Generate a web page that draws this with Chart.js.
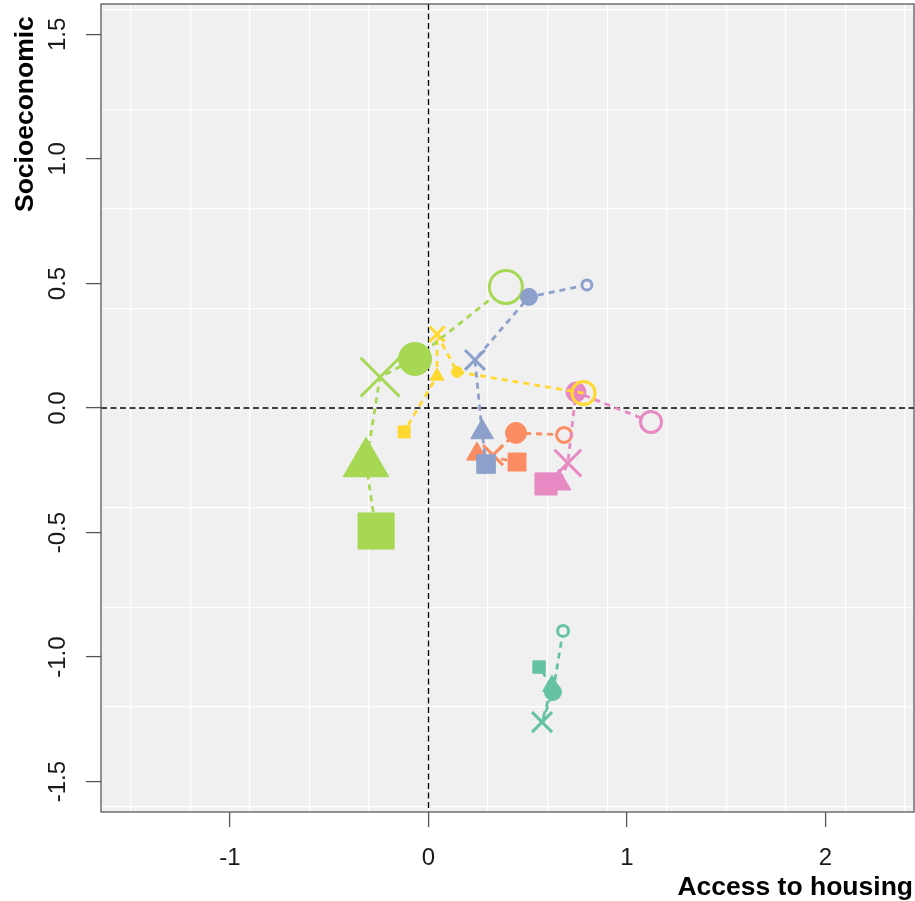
<!DOCTYPE html>
<html>
<head>
<meta charset="utf-8">
<script src="https://cdn.jsdelivr.net/npm/chart.js@4.4.1/dist/chart.umd.min.js"></script>
<style>
  html, body { margin: 0; padding: 0; background: #ffffff; }
  #wrap { width: 915px; height: 901px; position: relative; }
</style>
</head>
<body>
<div id="wrap"><canvas id="chart" width="915" height="901"></canvas></div>
<script>
// Stage order of the markers along each trajectory
const stages = ['open', 'filled', 'cross', 'triangle', 'square'];

// Access to housing (x) and Socioeconomic (y) scores per group, one value per stage
const blueX   = [0.798, 0.506, 0.234, 0.270, 0.290];
const blueY   = [0.494, 0.446, 0.193, -0.097, -0.225];
const limeX   = [0.390, -0.068, -0.244, -0.315, -0.264];
const limeY   = [0.486, 0.197, 0.124, -0.223, -0.494];
const yellowX = [0.781, 0.144, 0.043, 0.043, -0.123];
const yellowY = [0.060, 0.145, 0.297, 0.128, -0.096];
const pinkX   = [1.121, 0.743, 0.702, 0.657, 0.592];
const pinkY   = [-0.056, 0.064, -0.221, -0.301, -0.305];
const orangeX = [0.683, 0.441, 0.325, 0.244, 0.446];
const orangeY = [-0.108, -0.100, -0.189, -0.185, -0.217];
const greenX  = [0.678, 0.627, 0.572, 0.622, 0.557];
const greenY  = [-0.895, -1.140, -1.261, -1.116, -1.040];

// Relative magnitude of each point (drives marker size)
const blueMag   = [0.65, 0.90, 0.90, 0.85, 0.90];
const limeMag   = [1.80, 1.70, 1.75, 1.70, 1.75];
const yellowMag = [1.30, 0.60, 0.68, 0.52, 0.58];
const pinkMag   = [1.20, 1.05, 1.20, 0.90, 1.07];
const orangeMag = [0.90, 1.10, 0.90, 0.78, 0.87];
const greenMag  = [0.70, 0.90, 0.90, 0.70, 0.60];

// Axis ticks: labelled ticks and background grid positions
const xTickLabels = [-1, 0, 1, 2];
const yTickLabels = [-1.5, -1.0, -0.5, 0, 0.5, 1.0, 1.5];
const xGridValues = [-1.5, -1.2, -0.9, -0.6, -0.3, 0, 0.3, 0.6, 0.9, 1.2, 1.5, 1.8, 2.1, 2.4];
const yGridValues = [-1.6, -1.2, -0.8, -0.4, 0, 0.4, 0.8, 1.2, 1.6];

const PANEL = '#F0F0F0';
const FONT = "'Liberation Sans', Arial, Helvetica, sans-serif";

const pointShape = { open: 'circle', filled: 'circle', cross: 'crossRot', triangle: 'triangle', square: 'rect' };
function markerRadius(stage, m) {
  const s = m * 10;
  switch (stage) {
    case 'open': return s - 1.5;
    case 'filled': return s - 0.5;
    case 'cross': return s * 1.57;
    case 'triangle': return s * 1.55;
    default: return s * 1.46;
  }
}

// First entry is drawn on top
const groups = [
  { color: '#8DA0CB', xs: blueX,   ys: blueY,   mags: blueMag,   openFill: PANEL },
  { color: '#A6D854', xs: limeX,   ys: limeY,   mags: limeMag,   openFill: PANEL },
  { color: '#FFD92F', xs: yellowX, ys: yellowY, mags: yellowMag, openFill: 'rgba(0,0,0,0)' },
  { color: '#E78AC3', xs: pinkX,   ys: pinkY,   mags: pinkMag,   openFill: PANEL },
  { color: '#FC8D62', xs: orangeX, ys: orangeY, mags: orangeMag, openFill: PANEL },
  { color: '#66C2A5', xs: greenX,  ys: greenY,  mags: greenMag,  openFill: PANEL }
];

const datasets = groups.map(g => ({
  data: g.xs.map((x, i) => ({ x: x, y: g.ys[i] })),
  showLine: true,
  borderColor: g.color,
  borderWidth: 2.8,
  borderDash: [6, 5],
  borderCapStyle: 'butt',
  tension: 0,
  fill: false,
  pointStyle: stages.map(s => pointShape[s]),
  pointRadius: stages.map((s, i) => markerRadius(s, g.mags[i])),
  pointHoverRadius: stages.map((s, i) => markerRadius(s, g.mags[i])),
  pointBackgroundColor: stages.map(s => s === 'open' ? g.openFill : g.color),
  pointBorderColor: g.color,
  pointBorderWidth: stages.map(s => (s === 'open' || s === 'cross') ? 3 : 1),
  pointHoverBorderWidth: stages.map(s => (s === 'open' || s === 'cross') ? 3 : 1)
}));

const approxIn = (arr, v) => arr.some(a => Math.abs(a - v) < 1e-6);
const tickSet = (a, b) => Array.from(new Set(a.concat(b).map(v => Math.round(v * 100) / 100))).sort((p, q) => p - q);

// Panel background, zero reference lines, frame, y labels and axis titles
const decor = {
  id: 'decor',
  beforeDraw(chart) {
    const { ctx, chartArea: a } = chart;
    ctx.save();
    ctx.fillStyle = '#ffffff';
    ctx.fillRect(0, 0, chart.width, chart.height);
    ctx.fillStyle = PANEL;
    ctx.fillRect(a.left, a.top, a.right - a.left, a.bottom - a.top);
    ctx.restore();
  },
  beforeDatasetsDraw(chart) {
    const { ctx, chartArea: a, scales } = chart;
    const x0 = scales.x.getPixelForValue(0);
    const y0 = scales.y.getPixelForValue(0);
    ctx.save();
    ctx.strokeStyle = '#000000';
    ctx.lineWidth = 1.3;
    ctx.setLineDash([6, 3.5]);
    ctx.beginPath();
    ctx.moveTo(x0, a.top);
    ctx.lineTo(x0, a.bottom);
    ctx.moveTo(a.left, y0);
    ctx.lineTo(a.right, y0);
    ctx.stroke();
    ctx.restore();
  },
  afterDraw(chart) {
    const { ctx, chartArea: a, scales } = chart;
    ctx.save();
    ctx.strokeStyle = '#5a5a5a';
    ctx.lineWidth = 1.3;
    ctx.strokeRect(a.left, a.top, a.right - a.left, a.bottom - a.top);

    ctx.fillStyle = '#1a1a1a';
    ctx.font = '24px ' + FONT;
    ctx.textAlign = 'center';
    ctx.textBaseline = 'alphabetic';
    yTickLabels.forEach(v => {
      const py = scales.y.getPixelForValue(v);
      ctx.save();
      ctx.translate(65, py);
      ctx.rotate(-Math.PI / 2);
      ctx.fillText(v.toFixed(1), 0, 0);
      ctx.restore();
    });

    ctx.fillStyle = '#000000';
    ctx.font = 'bold 26.5px ' + FONT;
    ctx.textAlign = 'right';
    ctx.fillText('Access to housing', 913, 895);

    ctx.save();
    ctx.translate(33, 212);
    ctx.rotate(-Math.PI / 2);
    ctx.textAlign = 'left';
    ctx.fillText('Socioeconomic', 0, 0);
    ctx.restore();
    ctx.restore();
  }
};

new Chart(document.getElementById('chart'), {
  type: 'scatter',
  data: { datasets: datasets },
  options: {
    responsive: false,
    animation: false,
    events: [],
    layout: { autoPadding: false, padding: { top: 4, right: 1, left: 0, bottom: 0 } },
    plugins: { legend: { display: false }, tooltip: { enabled: false } },
    scales: {
      x: {
        type: 'linear',
        min: -1.65,
        max: 2.446,
        afterBuildTicks: s => { s.ticks = tickSet(xGridValues, xTickLabels).map(v => ({ value: v })); },
        afterFit: s => { s.height = 89; },
        border: { display: false },
        grid: {
          color: c => approxIn(xGridValues, c.tick.value) ? '#ffffff' : 'rgba(0,0,0,0)',
          lineWidth: 1.2,
          drawTicks: true,
          tickLength: 15,
          tickWidth: 1.3,
          tickColor: c => approxIn(xTickLabels, c.tick.value) ? '#555555' : 'rgba(0,0,0,0)'
        },
        ticks: {
          autoSkip: false,
          maxRotation: 0,
          minRotation: 0,
          padding: 0,
          color: '#1a1a1a',
          font: { family: FONT, size: 24, lineHeight: 2.625 },
          callback: v => approxIn(xTickLabels, v) ? String(Math.round(v)) : ''
        }
      },
      y: {
        type: 'linear',
        min: -1.622,
        max: 1.622,
        afterBuildTicks: s => { s.ticks = tickSet(yGridValues, yTickLabels).map(v => ({ value: v })); },
        afterFit: s => { s.width = 101; },
        border: { display: false },
        grid: {
          color: c => approxIn(yGridValues, c.tick.value) ? '#ffffff' : 'rgba(0,0,0,0)',
          lineWidth: 1.2,
          drawTicks: true,
          tickLength: 15,
          tickWidth: 1.3,
          tickColor: c => approxIn(yTickLabels, c.tick.value) ? '#555555' : 'rgba(0,0,0,0)'
        },
        ticks: { display: false }
      }
    }
  },
  plugins: [decor]
});
</script>
</body>
</html>
